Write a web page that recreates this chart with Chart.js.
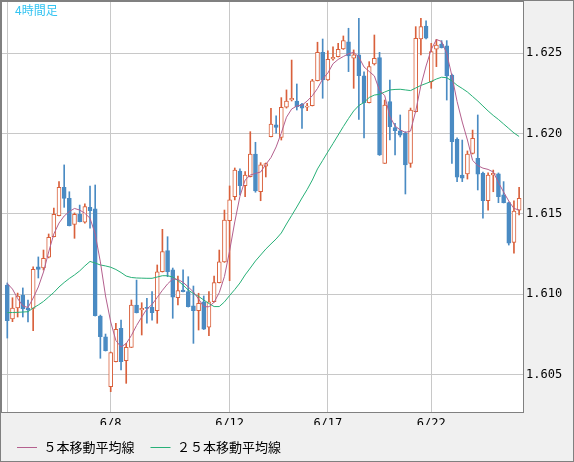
<!DOCTYPE html>
<html>
<head>
<meta charset="utf-8">
<script src="https://cdn.jsdelivr.net/npm/chart.js@4.4.1/dist/chart.umd.min.js"></script>
<style>
  html, body { margin: 0; padding: 0; background: #f0f0f0; }
  canvas { display: block; }
</style>
</head>
<body>
<canvas id="chart" width="574" height="462"></canvas>
<script>
// 4時間足 ローソク足 + 5本/25本移動平均線
const opens = [
  1.61057, 1.60846, 1.60914, 1.60995, 1.60914, 1.60912, 1.61171, 1.61163, 1.61230, 1.61358,
  1.61489, 1.61666, 1.61597, 1.61435, 1.61498, 1.61448, 1.61541, 1.61531, 1.60864, 1.60735,
  1.60424, 1.60580, 1.60788, 1.60586, 1.60669, 1.60933, 1.60902, 1.60918, 1.60918, 1.60897,
  1.61140, 1.61271, 1.61151, 1.60978, 1.61026, 1.61016, 1.60927, 1.60897, 1.60953, 1.60794,
  1.60953, 1.61072, 1.61201, 1.61458, 1.61607, 1.61767, 1.61676, 1.61732, 1.61873, 1.61638,
  1.61798, 1.61981, 1.62054, 1.61977, 1.62164, 1.62209, 1.62203, 1.62183, 1.62164, 1.62174,
  1.62329, 1.62506, 1.62334, 1.62465, 1.62479, 1.62527, 1.62572, 1.62469, 1.62490, 1.62359,
  1.62193, 1.62434, 1.62473, 1.61815, 1.62199, 1.62037, 1.62018, 1.62002, 1.61815, 1.62136,
  1.62589, 1.62670, 1.62323, 1.62525, 1.62558, 1.62546, 1.62365, 1.61965, 1.61742, 1.61749,
  1.61877, 1.61846, 1.61753, 1.61582, 1.61742, 1.61749, 1.61618, 1.61570, 1.61323, 1.61524
];
const highs = [
  1.61070, 1.60978, 1.61007, 1.61039, 1.60964, 1.61171, 1.61232, 1.61275, 1.61375, 1.61537,
  1.61701, 1.61805, 1.61638, 1.61506, 1.61555, 1.61562, 1.61674, 1.61680, 1.60870, 1.60752,
  1.60640, 1.60819, 1.60839, 1.60694, 1.60964, 1.61088, 1.60947, 1.60975, 1.61016, 1.61182,
  1.61404, 1.61358, 1.61163, 1.61113, 1.61151, 1.61109, 1.61051, 1.61006, 1.60989, 1.61016,
  1.61113, 1.61275, 1.61524, 1.61674, 1.61786, 1.61780, 1.61763, 1.62012, 1.61946, 1.61819,
  1.61817, 1.62158, 1.62110, 1.62224, 1.62272, 1.62458, 1.62309, 1.62189, 1.62189, 1.62338,
  1.62569, 1.62589, 1.62516, 1.62541, 1.62562, 1.62608, 1.62656, 1.62521, 1.62718, 1.62385,
  1.62448, 1.62614, 1.62506, 1.62209, 1.62334, 1.62064, 1.62116, 1.62012, 1.62159, 1.62666,
  1.62718, 1.62703, 1.62562, 1.62587, 1.62579, 1.62579, 1.62371, 1.61973, 1.61960, 1.61892,
  1.62022, 1.62116, 1.61761, 1.61755, 1.61773, 1.61755, 1.61701, 1.61574, 1.61582, 1.61666
];
const lows = [
  1.60727, 1.60829, 1.60858, 1.60858, 1.60827, 1.60773, 1.61101, 1.61151, 1.61226, 1.61356,
  1.61487, 1.61541, 1.61425, 1.61348, 1.61450, 1.61443, 1.61411, 1.60864, 1.60601, 1.60646,
  1.60393, 1.60578, 1.60528, 1.60445, 1.60668, 1.60883, 1.60746, 1.60819, 1.60839, 1.60819,
  1.61138, 1.61109, 1.60850, 1.60933, 1.61014, 1.60920, 1.60694, 1.60777, 1.60780, 1.60742,
  1.60951, 1.61070, 1.61198, 1.61084, 1.61587, 1.61618, 1.61607, 1.61730, 1.61635, 1.61582,
  1.61730, 1.61979, 1.62002, 1.61960, 1.62159, 1.62203, 1.62147, 1.62033, 1.62143, 1.62172,
  1.62328, 1.62220, 1.62331, 1.62458, 1.62477, 1.62524, 1.62386, 1.62282, 1.62089, 1.61973,
  1.62191, 1.62427, 1.61864, 1.61814, 1.61960, 1.61867, 1.61979, 1.61624, 1.61790, 1.62135,
  1.62490, 1.62589, 1.62282, 1.62417, 1.62533, 1.62209, 1.61815, 1.61701, 1.61701, 1.61717,
  1.61873, 1.61649, 1.61473, 1.61524, 1.61638, 1.61570, 1.61568, 1.61306, 1.61255, 1.61493
];
const closes = [
  1.60835, 1.60914, 1.60989, 1.60908, 1.60902, 1.61155, 1.61155, 1.61224, 1.61354, 1.61498,
  1.61666, 1.61597, 1.61427, 1.61498, 1.61452, 1.61545, 1.61520, 1.60866, 1.60735, 1.60648,
  1.60636, 1.60781, 1.60580, 1.60669, 1.60933, 1.60885, 1.60912, 1.60912, 1.60885, 1.61140,
  1.61265, 1.61140, 1.60981, 1.61022, 1.61016, 1.60922, 1.60897, 1.60943, 1.60783, 1.60953,
  1.61072, 1.61201, 1.61462, 1.61587, 1.61773, 1.61676, 1.61742, 1.61873, 1.61643, 1.61805,
  1.61814, 1.62060, 1.62039, 1.62164, 1.62203, 1.62220, 1.62168, 1.62158, 1.62172, 1.62329,
  1.62506, 1.62334, 1.62463, 1.62475, 1.62525, 1.62579, 1.62483, 1.62490, 1.62361, 1.62193,
  1.62417, 1.62469, 1.61867, 1.62178, 1.62043, 1.62018, 1.61991, 1.61805, 1.62147, 1.62594,
  1.62666, 1.62594, 1.62510, 1.62552, 1.62535, 1.62359, 1.61950, 1.61728, 1.61722, 1.61873,
  1.61971, 1.61747, 1.61582, 1.61742, 1.61753, 1.61607, 1.61570, 1.61317, 1.61518, 1.61597
];
const ma5 = [
  1.61067, 1.61032, 1.60973, 1.60927, 1.60917, 1.60976, 1.61045, 1.61138, 1.61263, 1.61375,
  1.61443, 1.61487, 1.61515, 1.61534, 1.61524, 1.61504, 1.61473, 1.61375, 1.61201, 1.60989,
  1.60827, 1.60712, 1.60671, 1.60693, 1.60743, 1.60805, 1.60858, 1.60908, 1.60936, 1.60980,
  1.61024, 1.61064, 1.61095, 1.61092, 1.61074, 1.61045, 1.61014, 1.60970, 1.60922, 1.60922,
  1.60950, 1.61010, 1.61110, 1.61270, 1.61450, 1.61610, 1.61711, 1.61742, 1.61752, 1.61761,
  1.61808, 1.61851, 1.61917, 1.62004, 1.62102, 1.62153, 1.62172, 1.62177, 1.62203, 1.62236,
  1.62281, 1.62340, 1.62377, 1.62435, 1.62462, 1.62480, 1.62497, 1.62506, 1.62477, 1.62415,
  1.62387, 1.62359, 1.62268, 1.62237, 1.62107, 1.62047, 1.62023, 1.62007, 1.62016, 1.62141,
  1.62300, 1.62421, 1.62524, 1.62586, 1.62574, 1.62499, 1.62359, 1.62200, 1.62072, 1.61960,
  1.61833, 1.61801, 1.61785, 1.61777, 1.61761, 1.61696, 1.61636, 1.61580, 1.61534, 1.61524
];
const ma25 = [
  1.60885, 1.60886, 1.60887, 1.60889, 1.60891, 1.60914, 1.60933, 1.60955, 1.60983, 1.61011,
  1.61045, 1.61073, 1.61098, 1.61120, 1.61145, 1.61176, 1.61204, 1.61194, 1.61182, 1.61176,
  1.61168, 1.61154, 1.61135, 1.61113, 1.61104, 1.61101, 1.61100, 1.61099, 1.61099, 1.61107,
  1.61115, 1.61115, 1.61107, 1.61085, 1.61057, 1.61026, 1.61004, 1.60986, 1.60964, 1.60942,
  1.60923, 1.60923, 1.60952, 1.60992, 1.61029, 1.61070, 1.61120, 1.61163, 1.61207, 1.61244,
  1.61281, 1.61313, 1.61344, 1.61381, 1.61437, 1.61490, 1.61543, 1.61599, 1.61652, 1.61711,
  1.61780, 1.61833, 1.61886, 1.61938, 1.61991, 1.62044, 1.62094, 1.62141, 1.62175, 1.62194,
  1.62225, 1.62240, 1.62245, 1.62259, 1.62272, 1.62275, 1.62276, 1.62272, 1.62268, 1.62284,
  1.62300, 1.62312, 1.62325, 1.62340, 1.62351, 1.62348, 1.62328, 1.62301, 1.62281, 1.62259,
  1.62231, 1.62203, 1.62172, 1.62141, 1.62113, 1.62088, 1.62060, 1.62032, 1.62004, 1.61982
];
const xTickPos = [0, 20, 43, 62, 82];
const xTickLabels = ['', '6/8', '6/12', '6/17', '6/22'];
const yTicks = [1.605, 1.610, 1.615, 1.620, 1.625];

const upColor = '#d9603b';
const downColor = '#4a8bc3';
const gridColor = '#c8c8c8';
const frameColor = '#808080';

const isUp = opens.map((o, i) => closes[i] > o);
const bodies = opens.map((o, i) => ({ x: i, y: [o, closes[i]] }));
const wicks = lows.map((l, i) => ({ x: i, y: [l, highs[i]] }));
const ma5Points = ma5.map((v, i) => ({ x: i, y: v }));
const ma25Points = ma25.map((v, i) => ({ x: i, y: v }));

// 背景とプロット枠
const backgroundPlugin = {
  id: 'background',
  beforeDraw(chart) {
    const { ctx, chartArea: a } = chart;
    ctx.save();
    ctx.fillStyle = '#f0f0f0';
    ctx.fillRect(0, 0, chart.width, chart.height);
    ctx.fillStyle = '#ffffff';
    ctx.fillRect(a.left, a.top, a.right - a.left, a.bottom - a.top);
    ctx.restore();
  },
  afterDraw(chart) {
    const { ctx, chartArea: a } = chart;
    ctx.save();
    ctx.strokeStyle = frameColor;
    ctx.lineWidth = 1;
    ctx.strokeRect(0.5, 0.5, chart.width - 1, chart.height - 1);
    ctx.strokeRect(a.left + 0.5, a.top + 0.5, a.right - a.left, a.bottom - a.top);
    ctx.fillStyle = '#33c4f2';
    ctx.font = "12px 'Noto Sans CJK JP'";
    ctx.textBaseline = 'middle';
    ctx.fillText('4時間足', 15, 10.5);
    ctx.restore();
  }
};

const ctx = document.getElementById('chart').getContext('2d');

new Chart(ctx, {
  type: 'bar',
  data: {
    datasets: [
      {
        type: 'line',
        label: '５本移動平均線',
        data: ma5Points,
        borderColor: '#b4608e',
        borderWidth: 1,
        pointRadius: 0,
        tension: 0
      },
      {
        type: 'line',
        label: '２５本移動平均線',
        data: ma25Points,
        borderColor: '#27b077',
        borderWidth: 1,
        pointRadius: 0,
        tension: 0
      },
      {
        label: 'body',
        data: bodies,
        backgroundColor: isUp.map(u => u ? '#ffffff' : downColor),
        borderColor: isUp.map(u => u ? upColor : downColor),
        borderWidth: 1,
        borderSkipped: false,
        barThickness: 4,
        minBarLength: 1,
        grouped: false
      },
      {
        label: 'wick',
        data: wicks,
        backgroundColor: isUp.map(u => u ? upColor : downColor),
        borderWidth: 0,
        barThickness: 1,
        grouped: false
      }
    ]
  },
  options: {
    responsive: false,
    devicePixelRatio: 1,
    animation: false,
    events: [],
    layout: { padding: { left: 1, top: 1, right: 0, bottom: -2 } },
    scales: {
      x: {
        type: 'linear',
        min: -1.22,
        max: 99.75,
        offset: false,
        afterBuildTicks: scale => { scale.ticks = xTickPos.map(v => ({ value: v })); },
        afterFit: scale => {
          scale.height = 13;
          scale.paddingLeft = 0;
          scale.paddingRight = 0;
        },
        grid: { color: gridColor, lineWidth: 1, drawTicks: false, offset: false },
        border: { display: false },
        ticks: {
          autoSkip: false,
          maxRotation: 0,
          padding: 5,
          color: '#000',
          font: { family: "'DejaVu Sans Mono', monospace", size: 12 },
          callback: v => xTickLabels[xTickPos.indexOf(v)]
        }
      },
      y: {
        position: 'right',
        min: 1.602665,
        max: 1.628257,
        afterBuildTicks: scale => { scale.ticks = yTicks.map(v => ({ value: v })); },
        afterFit: scale => {
          scale.width = 51;
          scale.paddingTop = 0;
          scale.paddingBottom = 0;
        },
        grid: { color: gridColor, lineWidth: 1, drawTicks: false },
        border: { display: false },
        ticks: {
          padding: 3,
          color: '#000',
          font: { family: "'DejaVu Sans Mono', monospace", size: 12 },
          callback: v => v.toFixed(3)
        }
      }
    },
    plugins: {
      tooltip: { enabled: false },
      legend: {
        position: 'bottom',
        align: 'start',
        labels: {
          filter: item => item.datasetIndex < 2,
          usePointStyle: true,
          pointStyle: 'line',
          pointStyleWidth: 20,
          padding: 16,
          color: '#000',
          font: { family: "'Noto Sans CJK JP'", size: 13 }
        }
      }
    }
  },
  plugins: [backgroundPlugin]
});
</script>
</body>
</html>
